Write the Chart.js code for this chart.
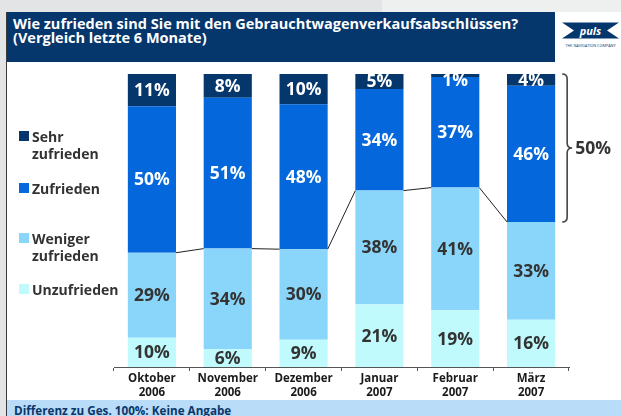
<!DOCTYPE html>
<html>
<head>
<meta charset="utf-8">
<script src="https://cdn.jsdelivr.net/npm/chart.js@4"></script>
<style>
  html,body{margin:0;padding:0;background:#fff;}
  body{width:621px;height:416px;position:relative;overflow:hidden;font-family:"Open Sans",sans-serif;}
  .abs{position:absolute;}
  #topL{left:0;top:0;width:382px;height:12px;background:#e3e4e6;}
  #topR{left:382px;top:0;width:239px;height:12px;background:#eeefef;}
  #leftS{left:0;top:0;width:6px;height:416px;background:#e3e4e6;}
  #leftB{left:6px;top:12px;width:1px;height:404px;background:#3a3a3a;}
  #header{left:7px;top:12px;width:548px;height:50px;background:#05366c;}
  #title{left:13px;top:17px;color:#fff;font-weight:700;font-size:14.5px;line-height:14px;white-space:nowrap;}
  #footer{left:7px;top:400px;width:614px;height:16px;background:#b9dcf8;}
  #foottext{left:14px;top:403px;color:#0b3669;font-weight:700;font-size:11.7px;line-height:14px;white-space:nowrap;}
  #cv{position:absolute;left:0;top:0;}
  .lg{position:absolute;left:19px;font-weight:700;font-size:14px;line-height:17px;color:#333;}
  .lg .sw{position:absolute;left:0;width:10px;height:10px;}
  .lg .tx{position:absolute;left:13px;white-space:nowrap;}
  #logo{left:555px;top:12px;}
</style>
</head>
<body>
<div class="abs" id="topL"></div>
<div class="abs" id="topR"></div>
<div class="abs" id="leftS"></div>
<div class="abs" id="leftB"></div>
<div class="abs" id="header"></div>
<div class="abs" id="title">Wie zufrieden sind Sie mit den Gebrauchtwagenverkaufsabschlüssen?<br>(Vergleich letzte 6 Monate)</div>
<svg class="abs" id="logo" width="66" height="50" viewBox="0 0 66 50">
  <polygon points="7,10.5 64,10.5 52,18.5 64,26.5 7,26.5 19,18.5" fill="#05366c"/>
  <text x="35.5" y="22.5" text-anchor="middle" fill="#fff" font-family="Open Sans" font-weight="700" font-style="italic" font-size="11">puls</text>
  <text x="35.5" y="34.5" text-anchor="middle" fill="#05366c" font-family="Open Sans" font-size="3.8">THE NAVIGATION COMPANY</text>
</svg>
<canvas id="cv" width="621" height="416"></canvas>
<div id="legend"></div>
<div class="abs" id="footer"></div>
<div class="abs" id="foottext">Differenz zu Ges. 100%: Keine Angabe</div>
<script>
// ---- data ----
const months = [["Oktober","2006"],["November","2006"],["Dezember","2006"],["Januar","2007"],["Februar","2007"],["März","2007"]];
const seriesNames = ["Unzufrieden","Weniger zufrieden","Zufrieden","Sehr zufrieden"];
const unzufrieden = [10, 6, 9, 21, 19, 16];
const weniger     = [29, 34, 30, 38, 41, 33];
const zufrieden   = [50, 51, 48, 34, 37, 46];
const sehr        = [11, 8, 10, 5, 1, 4];
const braceLabel  = "50%";
const footnote    = "Differenz zu Ges. 100%: Keine Angabe";

const colors = ["#c0fafc","#8ad6fb","#0467db","#05366c"];
const labelColors = ["#333333","#333333","#ffffff","#ffffff"];
const raw = [unzufrieden, weniger, zufrieden, sehr];
const totals = months.map((_, i) => raw.reduce((s, a) => s + a[i], 0));
const shares = raw.map(a => a.map((v, i) => v / totals[i] * 100));

// ---- HTML legend (top to bottom) ----
const legendItems = [
  {name:["Sehr","zufrieden"], color:colors[3], top:128},
  {name:["Zufrieden"], color:colors[2], top:180},
  {name:["Weniger","zufrieden"], color:colors[1], top:230},
  {name:["Unzufrieden"], color:colors[0], top:281}
];
const lg = document.getElementById('legend');
legendItems.forEach(it => {
  const d = document.createElement('div');
  d.className = 'lg';
  d.style.top = it.top + 'px';
  d.innerHTML = '<div class="sw" style="top:3px;background:' + it.color + '"></div><div class="tx">' + it.name.join('<br>') + '</div>';
  lg.appendChild(d);
});

const FONT = '"Open Sans", sans-serif';

const overlay = {
  id: 'overlay',
  afterDatasetsDraw(chart) {
    const ctx = chart.ctx;
    const area = chart.chartArea;
    // connector lines along top of "Weniger" segments
    const mW = chart.getDatasetMeta(1);
    ctx.save();
    ctx.strokeStyle = '#222';
    ctx.lineWidth = 1;
    for (let i = 0; i < mW.data.length - 1; i++) {
      const a = mW.data[i], b = mW.data[i + 1];
      ctx.beginPath();
      ctx.moveTo(a.x + a.width / 2, a.y);
      ctx.lineTo(b.x - b.width / 2, b.y);
      ctx.stroke();
    }
    ctx.restore();
    // value labels
    ctx.save();
    ctx.font = '700 17.5px ' + FONT;
    ctx.textAlign = 'center';
    ctx.textBaseline = 'middle';
    chart.data.datasets.forEach((ds, d) => {
      const meta = chart.getDatasetMeta(d);
      meta.data.forEach((el, i) => {
        let cy = (el.y + el.base) / 2;
        cy = Math.max(cy, area.top + 6);
        ctx.fillStyle = labelColors[d];
        ctx.fillText(raw[d][i] + '%', el.x, cy + 1);
      });
    });
    ctx.restore();
    // brace for last month (Sehr + Zufrieden)
    const last = months.length - 1;
    const eTop = chart.getDatasetMeta(3).data[last];
    const eBot = chart.getDatasetMeta(2).data[last];
    const y0 = eTop.y, y1 = eBot.base, ym = (y0 + y1) / 2;
    const x0 = eTop.x + eTop.width / 2 + 7, r = 5;
    ctx.save();
    ctx.strokeStyle = '#444';
    ctx.lineWidth = 1.6;
    ctx.beginPath();
    ctx.moveTo(x0, y0);
    ctx.quadraticCurveTo(x0 + r, y0, x0 + r, y0 + r);
    ctx.lineTo(x0 + r, ym - r);
    ctx.quadraticCurveTo(x0 + r, ym, x0 + 2 * r, ym);
    ctx.quadraticCurveTo(x0 + r, ym, x0 + r, ym + r);
    ctx.lineTo(x0 + r, y1 - r);
    ctx.quadraticCurveTo(x0 + r, y1, x0, y1);
    ctx.stroke();
    ctx.fillStyle = '#333';
    ctx.font = '700 17.5px ' + FONT;
    ctx.textAlign = 'left';
    ctx.textBaseline = 'middle';
    ctx.fillText(braceLabel, x0 + 2 * r + 3, ym + 1);
    ctx.restore();
  }
};

new Chart(document.getElementById('cv'), {
  type: 'bar',
  data: {
    labels: months,
    datasets: seriesNames.map((n, d) => ({
      label: n,
      data: shares[d],
      backgroundColor: colors[d],
      borderWidth: 0,
      barPercentage: 0.635,
      categoryPercentage: 1
    }))
  },
  options: {
    responsive: false,
    animation: false,
    events: [],
    layout: { padding: { left: 114, right: 52, top: 74, bottom: 9 } },
    plugins: { legend: { display: false }, tooltip: { enabled: false } },
    scales: {
      x: {
        stacked: true,
        offset: true,
        grid: { display: true, drawOnChartArea: false, offset: true, tickLength: 4, color: '#555', tickColor: '#555' },
        border: { display: true, color: '#555', width: 1 },
        ticks: { color: '#1a1a1a', font: { family: FONT, weight: '700', size: 11.5, lineHeight: 1.2 }, padding: 1, maxRotation: 0, autoSkip: false },
        afterFit(s) { s.height = 40; }
      },
      y: { stacked: true, display: false, min: 0, max: 100 }
    }
  },
  plugins: [overlay]
});
</script>
</body>
</html>
